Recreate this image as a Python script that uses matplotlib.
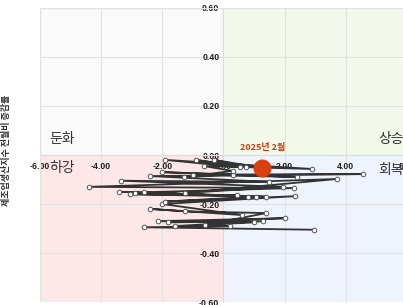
import matplotlib
matplotlib.use("Agg")
import matplotlib.pyplot as plt
from matplotlib.patches import Rectangle

plt.rcParams['font.family'] = ['Noto Sans CJK KR', 'DejaVu Sans']
plt.rcParams['axes.unicode_minus'] = False

# 궤적 (x: 순환변동 전월차, y: 제조업생산지수 전월비 증감률)
traj_x = [2.95, -2.6, 0.2, -1.6, 1.3, -1.8, 2.0, -2.15, 1.0, -0.6,
          1.4, -1.25, -2.4, 0.6, -2.0, 2.35, -1.9, 1.05, -3.4, 1.4,
          -2.9, 0.45, -3.05, 0.8, -2.6, 2.3, -4.4, 3.7, -1.25, 1.95,
          -3.35, 1.5, -2.4, 4.56, -1.0, 2.4, -2.0, 0.3, -1.3, 0.3,
          -0.65, 2.9, -1.9, 0.55, -0.9, 0.75, -0.3, 1.27]
traj_y = [-0.305, -0.295, -0.29, -0.29, -0.27, -0.275, -0.258, -0.27, -0.275, -0.285,
          -0.237, -0.23, -0.22, -0.245, -0.2, -0.168, -0.19, -0.17, -0.15, -0.17,
          -0.155, -0.165, -0.16, -0.17, -0.152, -0.135, -0.13, -0.098, -0.155, -0.13,
          -0.105, -0.11, -0.086, -0.078, -0.08, -0.09, -0.07, -0.08, -0.09, -0.065,
          -0.045, -0.057, -0.02, -0.05, -0.02, -0.048, -0.02, -0.053]
last_label = "2025년 2월"

xticks = [-6, -4, -2, 0, 2, 4, 6]
yticks = [-0.6, -0.4, -0.2, 0.0, 0.2, 0.4, 0.6]
xlim = (-6, 6)
ylim = (-0.6, 0.6)

fig = plt.figure(figsize=(4.03, 3.05), dpi=100)
ax = fig.add_axes([0.099, 0.0098, 0.911, 0.964])
ax.set_xlim(*xlim)
ax.set_ylim(*ylim)

# 사분면 배경
quad = [((xlim[0], 0), '#fafafa'), ((0, 0), '#f2f9ea'),
        ((xlim[0], ylim[0]), '#fde7e9'), ((0, ylim[0]), '#eef3fd')]
for (x0, y0), c in quad:
    ax.add_patch(Rectangle((x0, y0), xlim[1], ylim[1], facecolor=c, edgecolor='none', zorder=0))

ax.set_xticks(xticks)
ax.set_yticks(yticks)
ax.set_xticklabels([f"{v:.2f}" for v in xticks])
ax.set_yticklabels([f"{v:.2f}" for v in yticks])
ax.grid(True, color='#e2e2e2', linewidth=0.8, zorder=1)
ax.set_axisbelow(True)

for s in ['top', 'right']:
    ax.spines[s].set_visible(False)
ax.spines['left'].set_position('zero')
ax.spines['bottom'].set_position('zero')
ax.spines['left'].set_color('#dddddd')
ax.spines['bottom'].set_color('#dddddd')
ax.tick_params(axis='both', length=0, labelsize=6.3)
ax.tick_params(axis='x', pad=5)
ax.tick_params(axis='y', pad=3)
for lab in ax.get_xticklabels() + ax.get_yticklabels():
    lab.set_fontweight('bold')
    lab.set_color('#1e1e1e')
    lab.set_family(['Liberation Sans', 'DejaVu Sans'])

# 상단/좌측 테두리
ax.axhline(ylim[1], color='#e2e2e2', linewidth=1.0)
ax.axvline(xlim[0], color='#e2e2e2', linewidth=1.0)

ax.plot(traj_x, traj_y, color='#333333', linewidth=1.3, marker='o', markersize=3.3,
        markerfacecolor='white', markeredgecolor='#555555', markeredgewidth=0.7, zorder=3)
ax.plot(traj_x[-1], traj_y[-1], 'o', color='#d8400f', markersize=12, zorder=4)
ax.text(traj_x[-1], 0.012, last_label, color='#d23a12', fontsize=6.5, fontweight='bold',
        ha='center', va='bottom', zorder=5)

ax.text(-5.7, 0.065, '둔화', fontsize=10, color='#333333', va='center')
ax.text(5.05, 0.065, '상승', fontsize=10, color='#333333', va='center')
ax.text(-5.7, -0.055, '하강', fontsize=10, color='#333333', va='center')
ax.text(5.05, -0.06, '회복', fontsize=10, color='#333333', va='center')

ax.set_ylabel('제조업생산지수 전월비 증감률', fontsize=6.5, fontweight='bold', color='#333333')
ax.yaxis.set_label_coords(-0.08, 0.517)

fig.savefig('out.png', dpi=100)
